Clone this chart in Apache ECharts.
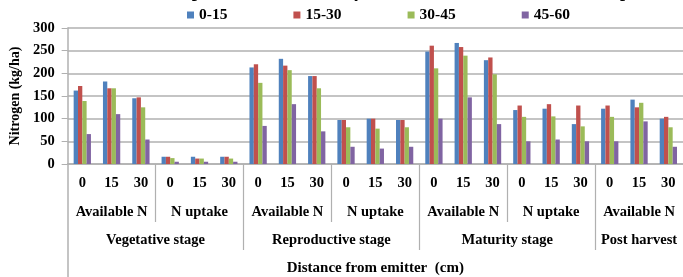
<!DOCTYPE html>
<html>
<head>
<meta charset="utf-8">
<script src="https://cdn.jsdelivr.net/npm/echarts@6/dist/echarts.min.js"></script>
<style>
  html, body { margin: 0; padding: 0; background: #fff; }
  #chart { width: 683px; height: 277px; }
</style>
</head>
<body>
<div id="chart"></div>
<script>
// distances from emitter (cm), repeated for each stage / parameter block
const categories = [
  '0', '15', '30', '0', '15', '30', '0', '15', '30', '0', '15', '30',
  '0', '15', '30', '0', '15', '30', '0', '15', '30'
]
const subGroups = ['Available N', 'N uptake', 'Available N', 'N uptake', 'Available N', 'N uptake', 'Available N']
const stages = ['Vegetative stage', 'Reproductive stage', 'Maturity stage', 'Post harvest']
const stageCenters = [3, 9, 15, 19.5]
const seriesNames = ['0-15', '15-30', '30-45', '45-60']

// soil depth (cm) series, kg/ha
const depth0_15 = [162, 182, 145, 16, 16, 16, 213, 232, 194, 97, 100, 97, 248, 267, 229, 119, 122, 88, 122, 142, 100]
const depth15_30 = [172, 167, 147, 16, 12, 16, 220, 217, 194, 97, 100, 97, 261, 258, 235, 129, 132, 129, 129, 125, 104]
const depth30_45 = [139, 167, 125, 13, 12, 12, 179, 207, 167, 81, 78, 81, 211, 239, 198, 104, 105, 83, 104, 135, 81]
const depth45_60 = [66, 110, 54, 5, 5, 5, 84, 132, 72, 38, 34, 38, 100, 147, 88, 50, 54, 50, 50, 94, 38]

const yTicks = [0, 50, 100, 150, 200, 250, 300]

const colors = ['#4F81BD', '#C0504D', '#9BBB59', '#8064A2']
const font = 'Liberation Serif'
const txt = { color: '#000', fontFamily: font, fontWeight: 'bold', fontSize: 14.5 }
const gridLine = '#b0b0b0'

const chart = echarts.init(document.getElementById('chart'))

const allData = [depth0_15, depth15_30, depth30_45, depth45_60]

const option = {
  animation: false,
  backgroundColor: '#fff',
  title: {
    // only the bottom edge of the figure caption shows in the crop
    text: 'Available N and N uptake as influenced by distance from emitter and soil depth',
    left: 'center',
    top: -22,
    textStyle: { color: '#000', fontFamily: font, fontWeight: 'bold', fontSize: 18 }
  },
  legend: {
    data: seriesNames,
    top: 7,
    left: 187,
    padding: 0,
    icon: 'rect',
    itemWidth: 7,
    itemHeight: 7,
    itemGap: 66,
    textStyle: Object.assign({}, txt, { fontSize: 15.5 })
  },
  grid: {
    left: 66,
    right: -3,
    top: 28,
    bottom: 113
  },
  xAxis: [
    {
      type: 'category',
      data: categories,
      axisLine: { lineStyle: { color: gridLine, width: 1.5 } },
      axisTick: { show: false },
      axisLabel: Object.assign({ margin: 12, interval: 0 }, txt)
    },
    {
      // parameter row
      type: 'value',
      min: 0,
      max: 21,
      position: 'bottom',
      axisLine: { show: false },
      splitLine: { show: false },
      axisTick: {
        show: true,
        customValues: [3, 9, 15],
        length: 58,
        lineStyle: { color: gridLine, width: 1.2 }
      },
      axisLabel: Object.assign({
        margin: 41,
        customValues: [1.5, 4.5, 7.5, 10.5, 13.5, 16.5, 19.5],
        formatter: v => subGroups[Math.round(v - 1.5) / 3] || ''
      }, txt)
    },
    {
      // stage row
      type: 'value',
      min: 0,
      max: 21,
      position: 'bottom',
      axisLine: { show: false },
      splitLine: { show: false },
      axisTick: {
        show: true,
        customValues: [6, 12, 18],
        length: 86,
        lineStyle: { color: gridLine, width: 1.2 }
      },
      axisLabel: Object.assign({
        margin: 69,
        customValues: stageCenters,
        formatter: v => stages[stageCenters.indexOf(v)] || ''
      }, txt)
    },
    {
      // axis title + left border continuing downward
      type: 'value',
      min: 0,
      max: 21,
      position: 'bottom',
      axisLine: { show: false },
      splitLine: { show: false },
      axisLabel: { show: false },
      axisTick: {
        show: true,
        customValues: [0],
        length: 115,
        lineStyle: { color: gridLine, width: 1.5 }
      },
      name: 'Distance from emitter  (cm)',
      nameLocation: 'middle',
      nameGap: 97,
      nameTextStyle: Object.assign({}, txt, { fontSize: 15 })
    }
  ],
  yAxis: {
    type: 'value',
    min: 0,
    max: 300,
    interval: 50,
    name: 'Nitrogen (kg/ha)',
    nameLocation: 'middle',
    nameGap: 40,
    nameTextStyle: Object.assign({}, txt, { fontSize: 14 }),
    axisLine: { show: true, lineStyle: { color: gridLine, width: 1.5 } },
    axisTick: { show: true, length: 6, lineStyle: { color: gridLine } },
    axisLabel: Object.assign({ margin: 13, customValues: yTicks }, txt),
    splitLine: { lineStyle: { color: gridLine, width: 1.5 } }
  },
  series: seriesNames.map((name, i) => ({
    name: name,
    type: 'bar',
    xAxisIndex: 0,
    data: allData[i],
    barGap: '0%',
    barCategoryGap: '41%',
    itemStyle: { color: colors[i] }
  }))
}

chart.setOption(option)
</script>
</body>
</html>
